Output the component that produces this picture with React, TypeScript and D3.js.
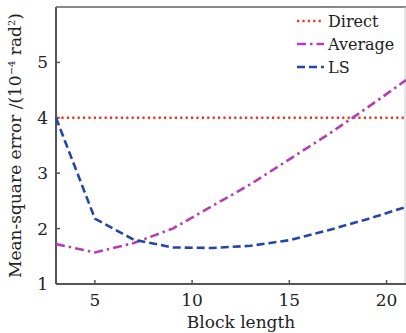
import React from 'react';
import * as d3 from 'd3';

const blockLengths = [3, 5, 7, 9, 11, 13, 15, 17, 19, 21];
const directValues = [4, 4, 4, 4, 4, 4, 4, 4, 4, 4];
const averageValues = [1.72, 1.57, 1.74, 2.0, 2.4, 2.8, 3.25, 3.7, 4.18, 4.68];
const lsValues = [4.0, 2.18, 1.8, 1.66, 1.65, 1.69, 1.79, 1.97, 2.17, 2.39];
const xTicks = [5, 10, 15, 20];
const yTicks = [1, 2, 3, 4, 5];

const seriesNames = ['Direct', 'Average', 'LS'];
const seriesColors = ['#f2301e', '#b040b4', '#2446a6'];
const seriesDash = ['2.2,3.2', '9,4,2.5,4', '8,4'];

const App = () => {
  const width = 406;
  const height = 333;
  const margin = { top: 7, right: 0, bottom: 49, left: 56 };
  const font = 'DejaVu Serif, serif';

  const x = d3.scaleLinear().domain([3, 21]).range([margin.left, width - margin.right]);
  const y = d3.scaleLinear().domain([1, 6]).range([height - margin.bottom, margin.top]);

  const line = d3
    .line<[number, number]>()
    .x((d) => x(d[0]))
    .y((d) => y(d[1]));

  const allSeries = [directValues, averageValues, lsValues];

  return (
    <svg
      width={width}
      height={height}
      style={{ position: 'absolute', left: 0, top: 0, background: '#fff' }}
    >
      {/* frame */}
      <line x1={margin.left} x2={width} y1={margin.top} y2={margin.top} stroke='#888' strokeWidth={2} />
      <line x1={width - 1} x2={width - 1} y1={margin.top} y2={y(1)} stroke='#ccc' strokeWidth={1} />
      <line x1={margin.left} x2={margin.left} y1={margin.top} y2={y(1)} stroke='#555' strokeWidth={2} />
      <line x1={margin.left} x2={width} y1={y(1)} y2={y(1)} stroke='#555' strokeWidth={2} />

      {xTicks.map((t) => (
        <g key={'x' + t}>
          <line x1={x(t)} x2={x(t)} y1={y(1)} y2={y(1) - 4} stroke='#555' strokeWidth={1.5} />
          <text x={x(t)} y={y(1) + 22} textAnchor='middle' fontFamily={font} fontSize={17} fill='#222'>
            {t}
          </text>
        </g>
      ))}
      {yTicks.map((t) => (
        <g key={'y' + t}>
          <line x1={margin.left} x2={margin.left + 4} y1={y(t)} y2={y(t)} stroke='#555' strokeWidth={1.5} />
          <text x={margin.left - 8} y={y(t) + 6} textAnchor='end' fontFamily={font} fontSize={17} fill='#222'>
            {t}
          </text>
        </g>
      ))}

      <text x={241} y={328} textAnchor='middle' fontFamily={font} fontSize={17} fill='#222'>
        Block length
      </text>
      <text
        transform={`translate(21,${(margin.top + y(1)) / 2}) rotate(-90)`}
        textAnchor='middle'
        fontFamily={font}
        fontSize={17}
        fill='#222'
      >
        Mean-square error /(10
        <tspan dy={-6} fontSize={10}>−4</tspan>
        <tspan dy={6}> rad</tspan>
        <tspan dy={-6} fontSize={10}>2</tspan>
        <tspan dy={6}>)</tspan>
      </text>

      {allSeries.map((vals, i) => (
        <path
          key={seriesNames[i]}
          d={line(blockLengths.map((b, j) => [b, vals[j]] as [number, number])) || ''}
          fill='none'
          stroke={seriesColors[i]}
          strokeWidth={2.6}
          strokeDasharray={seriesDash[i]}
        />
      ))}

      {seriesNames.map((name, i) => (
        <g key={'leg' + name} transform={`translate(297,${21 + i * 23})`}>
          <line x1={0} x2={27} y1={0} y2={0} stroke={seriesColors[i]} strokeWidth={2.6} strokeDasharray={seriesDash[i]} />
          <text x={31} y={6} fontFamily={font} fontSize={16} fill='#222'>
            {name}
          </text>
        </g>
      ))}
    </svg>
  );
};

export default App;
